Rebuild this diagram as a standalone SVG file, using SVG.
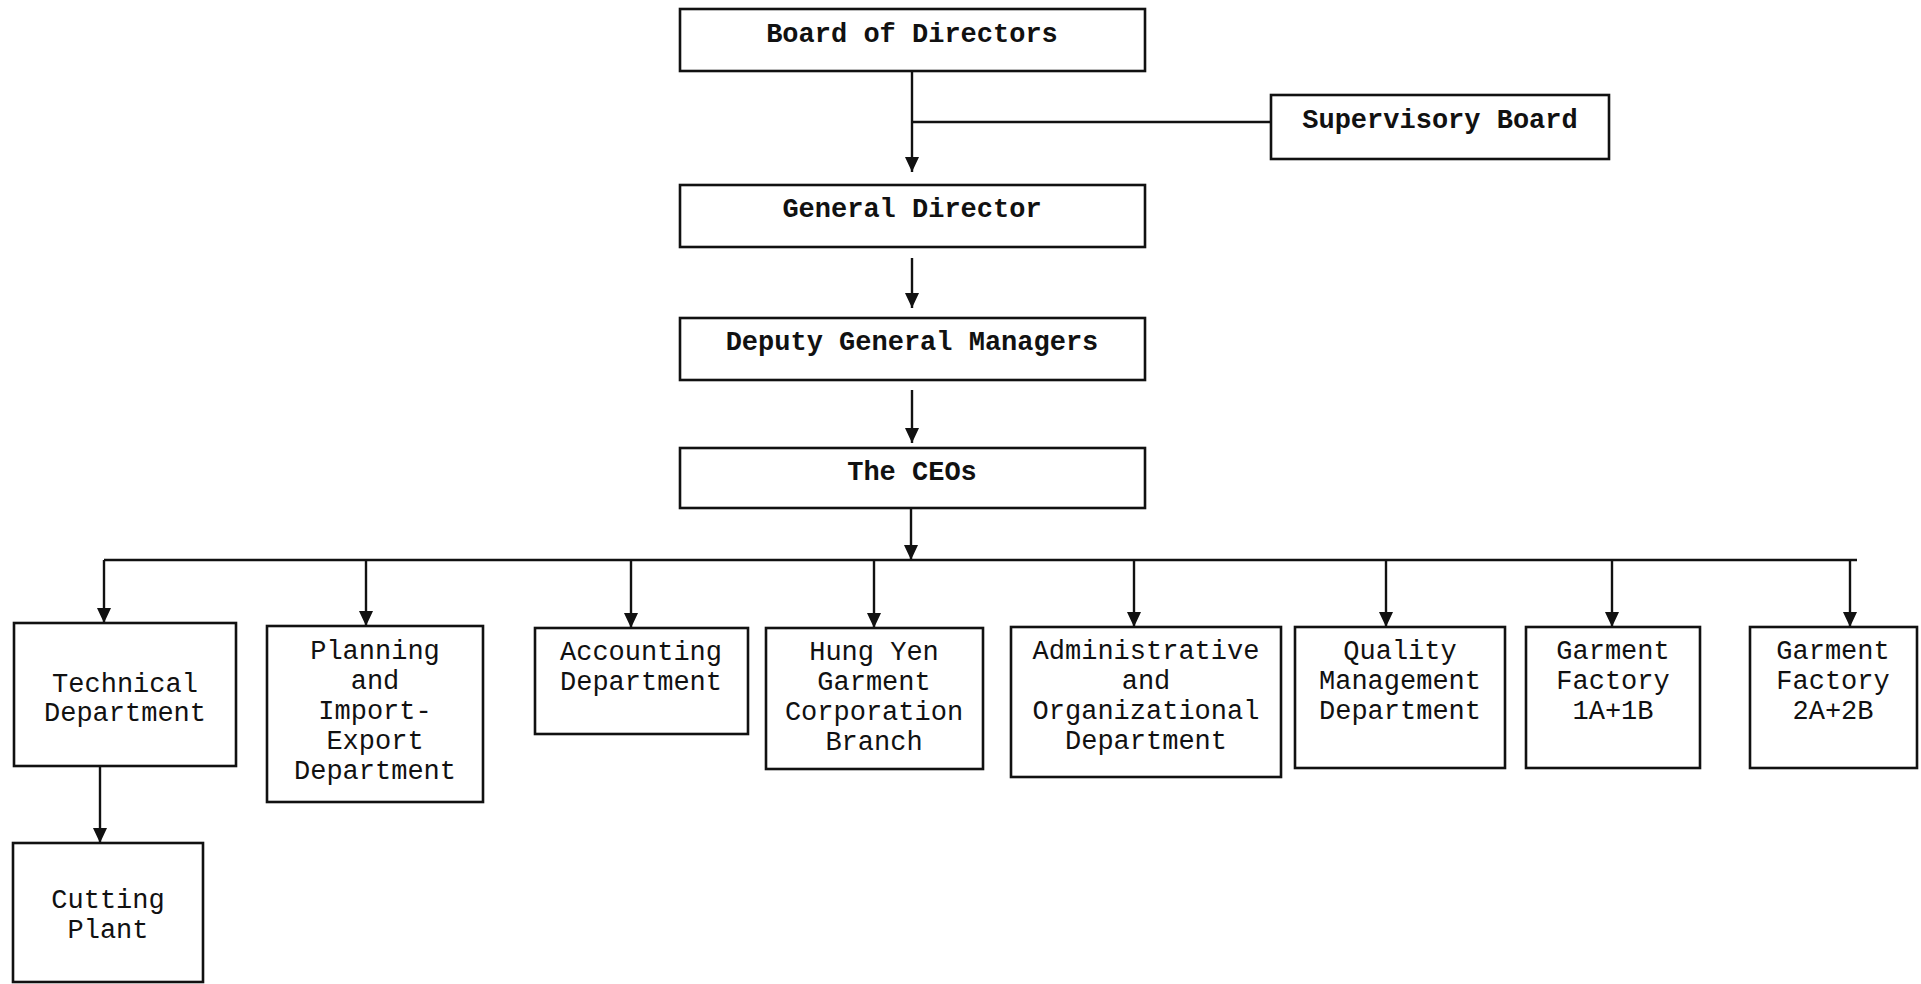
<svg xmlns="http://www.w3.org/2000/svg" width="1921" height="984" viewBox="0 0 1921 984">
<style>
.box{fill:#fff;stroke:#111;stroke-width:2.6}
.tb{font-family:"Liberation Mono","Courier New",monospace;font-weight:bold;font-size:27px;fill:#111;text-anchor:middle}
.tr{font-family:"Liberation Mono","Courier New",monospace;font-size:27px;fill:#111;text-anchor:middle}
.ln{fill:none;stroke:#111;stroke-width:2.4}
</style>
<defs>
<marker id="ah" markerUnits="userSpaceOnUse" markerWidth="16" markerHeight="14" refX="15" refY="7" orient="auto">
<path d="M0,0 L15,7 L0,14 z" fill="#111"/>
</marker>
</defs>
<rect width="1921" height="984" fill="#fff"/>
<g id="connectors">
<line class="ln" x1="912" y1="71" x2="912" y2="172" marker-end="url(#ah)"/>
<line class="ln" x1="912" y1="122" x2="1271" y2="122"/>
<line class="ln" x1="912" y1="258" x2="912" y2="308" marker-end="url(#ah)"/>
<line class="ln" x1="912" y1="390" x2="912" y2="443" marker-end="url(#ah)"/>
<line class="ln" x1="911" y1="508" x2="911" y2="560" marker-end="url(#ah)"/>
<line class="ln" x1="104" y1="560" x2="1857" y2="560"/>
<line class="ln" x1="104" y1="560" x2="104" y2="623" marker-end="url(#ah)"/>
<line class="ln" x1="366" y1="560" x2="366" y2="626" marker-end="url(#ah)"/>
<line class="ln" x1="631" y1="560" x2="631" y2="628" marker-end="url(#ah)"/>
<line class="ln" x1="874" y1="560" x2="874" y2="628" marker-end="url(#ah)"/>
<line class="ln" x1="1134" y1="560" x2="1134" y2="627" marker-end="url(#ah)"/>
<line class="ln" x1="1386" y1="560" x2="1386" y2="627" marker-end="url(#ah)"/>
<line class="ln" x1="1612" y1="560" x2="1612" y2="627" marker-end="url(#ah)"/>
<line class="ln" x1="1850" y1="560" x2="1850" y2="627" marker-end="url(#ah)"/>
<line class="ln" x1="100" y1="766" x2="100" y2="843" marker-end="url(#ah)"/>
</g>
<g id="board"><rect class="box" x="680" y="9" width="465" height="62"/><text class="tb" x="912" y="42">Board of Directors</text></g>
<g id="supervisory"><rect class="box" x="1271" y="95" width="338" height="64"/><text class="tb" x="1440" y="128">Supervisory Board</text></g>
<g id="general"><rect class="box" x="680" y="185" width="465" height="62"/><text class="tb" x="912" y="217">General Director</text></g>
<g id="deputy"><rect class="box" x="680" y="318" width="465" height="62"/><text class="tb" x="912" y="350">Deputy General Managers</text></g>
<g id="ceos"><rect class="box" x="680" y="448" width="465" height="60"/><text class="tb" x="912" y="480">The CEOs</text></g>
<g id="technical"><rect class="box" x="14" y="623" width="222" height="143"/><text class="tr" x="125" y="692">Technical</text><text class="tr" x="125" y="721">Department</text></g>
<g id="planning"><rect class="box" x="267" y="626" width="216" height="176"/><text class="tr" x="375" y="659">Planning</text><text class="tr" x="375" y="689">and</text><text class="tr" x="375" y="719">Import-</text><text class="tr" x="375" y="749">Export</text><text class="tr" x="375" y="779">Department</text></g>
<g id="accounting"><rect class="box" x="535" y="628" width="213" height="106"/><text class="tr" x="641" y="660">Accounting</text><text class="tr" x="641" y="690">Department</text></g>
<g id="hungyen"><rect class="box" x="766" y="628" width="217" height="141"/><text class="tr" x="874" y="660">Hung Yen</text><text class="tr" x="874" y="690">Garment</text><text class="tr" x="874" y="720">Corporation</text><text class="tr" x="874" y="750">Branch</text></g>
<g id="admin"><rect class="box" x="1011" y="627" width="270" height="150"/><text class="tr" x="1146" y="659">Administrative</text><text class="tr" x="1146" y="689">and</text><text class="tr" x="1146" y="719">Organizational</text><text class="tr" x="1146" y="749">Department</text></g>
<g id="quality"><rect class="box" x="1295" y="627" width="210" height="141"/><text class="tr" x="1400" y="659">Quality</text><text class="tr" x="1400" y="689">Management</text><text class="tr" x="1400" y="719">Department</text></g>
<g id="factory1"><rect class="box" x="1526" y="627" width="174" height="141"/><text class="tr" x="1613" y="659">Garment</text><text class="tr" x="1613" y="689">Factory</text><text class="tr" x="1613" y="719">1A+1B</text></g>
<g id="factory2"><rect class="box" x="1750" y="627" width="167" height="141"/><text class="tr" x="1833" y="659">Garment</text><text class="tr" x="1833" y="689">Factory</text><text class="tr" x="1833" y="719">2A+2B</text></g>
<g id="cutting"><rect class="box" x="13" y="843" width="190" height="139"/><text class="tr" x="108" y="908">Cutting</text><text class="tr" x="108" y="938">Plant</text></g>
</svg>
